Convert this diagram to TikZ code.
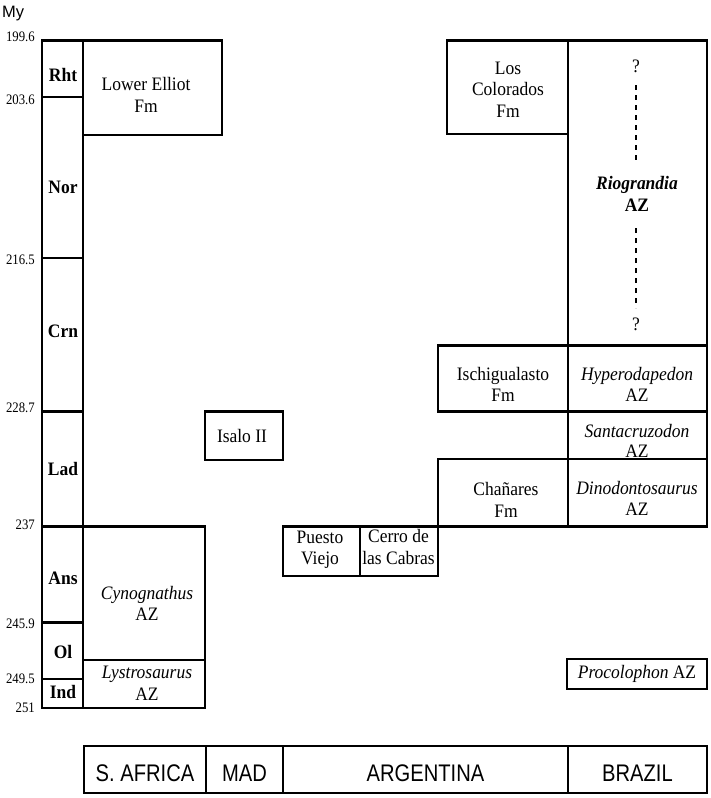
\documentclass[tikz,border=0pt]{standalone}
\usepackage{fontspec}
\setmainfont[FakeStretch=0.92]{Liberation Serif}
\newfontfamily\agefont[FakeStretch=0.88]{Liberation Serif}
\newfontfamily\labfont[FakeStretch=0.84]{Liberation Sans}
\newfontfamily\myfont{Liberation Sans}
\begin{document}
\begin{tikzpicture}[x=1pt,y=-1pt,
  frame/.style={line width=2.8pt},
  txt/.style={font=\fontsize{19}{21.5}\selectfont, align=center, inner sep=0pt},
  stage/.style={font=\fontsize{19}{21.5}\selectfont\bfseries, inner sep=0pt},
  age/.style={font=\agefont\fontsize{14.5}{16}\selectfont, anchor=east, inner sep=0pt},
  country/.style={font=\labfont\fontsize{24}{26}\selectfont, inner sep=0pt},
  qdash/.style={line width=2pt, dash pattern=on 5pt off 5pt}]
\useasboundingbox (0,0) rectangle (710,798);

% unit label
\node[font=\myfont\fontsize{16.5}{18}\selectfont, anchor=base west, inner sep=0pt] (my) at (2,17) {My};

% ages
\node[age] (a1) at (35,37) {199.6};
\node[age] (a2) at (35,99.5) {203.6};
\node[age] (a3) at (35,260) {216.5};
\node[age] (a4) at (35,408) {228.7};
\node[age] (a5) at (35,525) {237};
\node[age] (a6) at (35,624) {245.9};
\node[age] (a7) at (35,678.5) {249.5};
\node[age] (a8) at (35,708) {251};

% stage column
\draw[frame] (42,40.7) rectangle (83,708);
\draw[frame] (42,97) -- (83,97);
\draw[frame] (42,258) -- (83,258);
\draw[frame] (42,411.3) -- (83,411.3);
\draw[frame] (42,526.7) -- (83,526.7);
\draw[frame] (42,622.7) -- (83,622.7);
\draw[frame] (42,679) -- (83,679);
\node[stage] (rht) at (63,75) {Rht};
\node[stage] (nor) at (63,187) {Nor};
\node[stage] (crn) at (63,331) {Crn};
\node[stage] (lad) at (63,469) {Lad};
\node[stage] (ans) at (63,578) {Ans};
\node[stage] (ol) at (63,652) {Ol};
\node[stage] (ind) at (63,692) {Ind};

% South Africa
\draw[frame] (83,40.7) rectangle (222,135);
\node[txt] (elliot) at (146,95) {Lower Elliot\\Fm};
\draw[frame] (83,526.7) rectangle (205,660);
\node[txt] (cyno) at (147,603.5) {\textit{Cynognathus}\\AZ};
\draw[frame] (83,660) rectangle (205,708);
\node[txt] (lystro) at (147,683.5) {\textit{Lystrosaurus}\\AZ};

% Madagascar
\draw[frame] (205,411.3) rectangle (283,460);
\node[txt] (isalo) at (242,436) {Isalo II};

% Argentina
\draw[frame] (283,526.7) rectangle (360,576);
\node[txt] (puesto) at (320,550) {Puesto\\Viejo};
\draw[frame] (360,526.7) rectangle (438,576);
\node[txt] (cerro) at (398.5,547) {Cerro de\\las Cabras};
\draw[frame] (438,345.7) rectangle (568,411.3);
\node[txt] (ischi) at (503,384.5) {Ischigualasto\\Fm};
\draw[frame] (438,459) rectangle (568,526.7);
\node[txt] (chan) at (506,500) {Chañares\\Fm};
\draw[frame] (447,40.7) rectangle (568,134);
\node[txt] (losc) at (508,89.5) {Los\\Colorados\\Fm};

% Brazil
\draw[frame] (568,40.7) rectangle (707,526.7);
\draw[frame] (568,345.7) -- (707,345.7);
\draw[frame] (568,411.3) -- (707,411.3);
\draw[frame] (568,459) -- (707,459);
\node[txt] (qtop) at (636,66) {?};
\node[txt] (rio) at (637,194) {\textbf{\textit{Riograndia}}\\\textbf{AZ}};
\node[txt] (qbot) at (636,324) {?};
\coordinate (d1a) at (636,85);
\coordinate (d1b) at (636,162);
\coordinate (d2a) at (636,228);
\coordinate (d2b) at (636,308);
\draw[qdash] (d1a) -- (d1b);
\draw[qdash] (d2a) -- (d2b);
\node[txt] (hyper) at (637,384.5) {\textit{Hyperodapedon}\\AZ};
\node[txt, font=\fontsize{19}{20}\selectfont] (santa) at (637,441) {\textit{Santacruzodon}\\AZ};
\node[txt] (dino) at (637,498.5) {\textit{Dinodontosaurus}\\AZ};
\draw[frame] (567,659) rectangle (707,689);
\node[txt] (proco) at (637,674) {\textit{Procolophon} AZ};

% country bar
\draw[frame] (84,746) rectangle (707,793);
\draw[frame] (206,746) -- (206,793);
\draw[frame] (283,746) -- (283,793);
\draw[frame] (568,746) -- (568,793);
\node[country] (saf) at (145,773) {S. AFRICA};
\node[country] (mad) at (244.5,773) {MAD};
\node[country] (arg) at (425.5,773) {ARGENTINA};
\node[country] (bra) at (637.5,773) {BRAZIL};
\end{tikzpicture}
\end{document}
